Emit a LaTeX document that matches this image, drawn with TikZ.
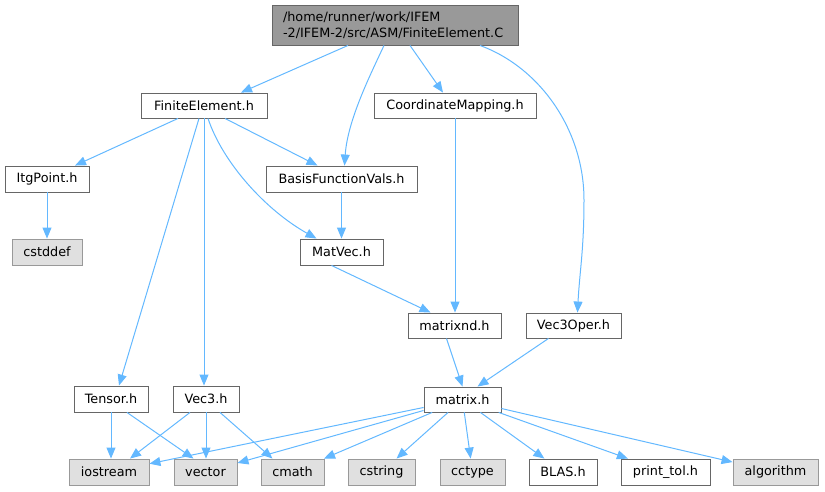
\documentclass[tikz,border=0pt]{standalone}
\usepackage{fontspec}
\setmainfont{DejaVu Sans}
\usetikzlibrary{arrows.meta}
\definecolor{edgeblue}{HTML}{63B8FF}
\definecolor{nborder}{HTML}{666666}
\definecolor{sysborder}{HTML}{999999}
\definecolor{sysfill}{HTML}{E0E0E0}
\definecolor{rootfill}{HTML}{999999}
\tikzset{
  box/.style={draw=nborder, fill=white, line width=0.9pt, inner sep=0pt, font=\fontsize{12.8}{15}\selectfont},
  sysbox/.style={box, draw=sysborder, fill=sysfill},
  rootbox/.style={box, fill=rootfill},
  dep/.style={draw=edgeblue, line width=1pt, -{Triangle[length=11pt,width=9pt]}}
}
\newcommand{\bx}[7]{% name, style, x1, y1, x2, y2, text
  \node[#2, minimum width={(#5-#3)*1pt}, minimum height={(#6-#4)*1pt}] (#1) at ({(#3+#5)/2},{(#4+#6)/2}) {#7};}
\begin{document}
\begin{tikzpicture}[x=1pt,y=-1pt]
\useasboundingbox (0,0) rectangle (825,491);
% nodes
\node[rootbox, minimum width=246pt, minimum height=40pt, align=left, text width=224pt, font=\fontsize{12.8}{15.5}\selectfont] (root) at (395,25) {/home/runner/work/IFEM\\-2/IFEM-2/src/ASM/FiniteElement.C};
\bx{fe}{box}{141}{93}{267}{118}{FiniteElement.h}
\bx{cm}{box}{374}{93}{536}{118}{CoordinateMapping.h}
\bx{itg}{box}{5}{166}{89}{192}{ItgPoint.h}
\bx{bfv}{box}{266}{166}{417}{192}{BasisFunctionVals.h}
\bx{cstddef}{sysbox}{12}{239}{82}{265}{cstddef}
\bx{matvec}{box}{300}{239}{383}{265}{MatVec.h}
\bx{mnd}{box}{408}{313}{501}{338}{matrixnd.h}
\bx{v3o}{box}{526}{313}{621}{338}{Vec3Oper.h}
\bx{mat}{box}{424}{387}{501}{412}{matrix.h}
\bx{tensor}{box}{74}{386}{148}{412}{Tensor.h}
\bx{vec3}{box}{173}{386}{239}{412}{Vec3.h}
\bx{iostream}{sysbox}{69}{459}{149}{485}{iostream}
\bx{vector}{sysbox}{174}{459}{237}{485}{vector}
\bx{cmath}{sysbox}{261}{459}{324}{485}{cmath}
\bx{cstring}{sysbox}{348}{459}{415}{485}{cstring}
\bx{cctype}{sysbox}{440}{459}{505}{485}{cctype}
\bx{blas}{box}{529}{459}{597}{485}{BLAS.h}
\bx{ptol}{box}{621}{459}{710}{485}{print\_tol.h}
\bx{algo}{sysbox}{733}{459}{818}{485}{algorithm}
% edges from root
\draw[dep] ([xshift=-47pt]root.south) -- ([xshift=37pt]fe.north);
\draw[dep] ([xshift=-11pt]root.south) .. controls +(-14,30) and +(3,-45) .. ([xshift=3pt]bfv.north);
\draw[dep] ([xshift=15pt]root.south) -- ([xshift=-12pt]cm.north);
\draw[dep] ([xshift=85pt]root.south) .. controls +(60,22) and +(0,-70) .. ([xshift=584pt-395pt]root.south |- 0,200) .. controls +(0,50) and +(2,-40) .. ([xshift=4pt]v3o.north);
% edges from FiniteElement.h
\draw[dep] ([xshift=-26pt]fe.south) -- ([xshift=28pt]itg.north);
\draw[dep] ([xshift=21pt]fe.south) -- ([xshift=-24pt]bfv.north);
\draw[dep] ([xshift=4pt]fe.south) .. controls +(15,45) and +(-50,-28) .. ([xshift=-25pt]matvec.north);
\draw[dep] ([xshift=-5pt]fe.south) -- ([xshift=8pt]tensor.north);
\draw[dep] (fe.south) -- (vec3.north -| fe.south);
% others
\draw[dep] (cm.south) -- (mnd.north -| cm.south);
\draw[dep] (itg.south) -- (cstddef.north -| itg.south);
\draw[dep] (bfv.south) -- (matvec.north -| bfv.south);
\draw[dep] ([xshift=-10pt]matvec.south) -- ([xshift=-24pt]mnd.north);
\draw[dep] ([xshift=-8pt]mnd.south) -- ([xshift=0pt]mat.north);
\draw[dep] ([xshift=-25pt]v3o.south) -- ([xshift=15pt]mat.north);
\draw[dep] ([xshift=0pt]tensor.south) -- (iostream.north -| tensor.south);
\draw[dep] ([xshift=16pt]tensor.south) -- ([xshift=-12pt]vector.north);
\draw[dep] ([xshift=-16pt]vec3.south) -- ([xshift=21pt]iostream.north);
\draw[dep] (vec3.south) -- (vector.north -| vec3.south);
\draw[dep] ([xshift=14pt]vec3.south) -- ([xshift=-20pt]cmath.north);
% from matrix.h
\draw[dep] (mat) -- (iostream);
\draw[dep] (mat) -- (vector);
\draw[dep] (mat) -- (cmath);
\draw[dep] (mat) -- (cstring);
\draw[dep] (mat) -- (cctype);
\draw[dep] (mat) -- (blas);
\draw[dep] (mat) -- (ptol);
\draw[dep] (mat) -- (algo);
\end{tikzpicture}
\end{document}
